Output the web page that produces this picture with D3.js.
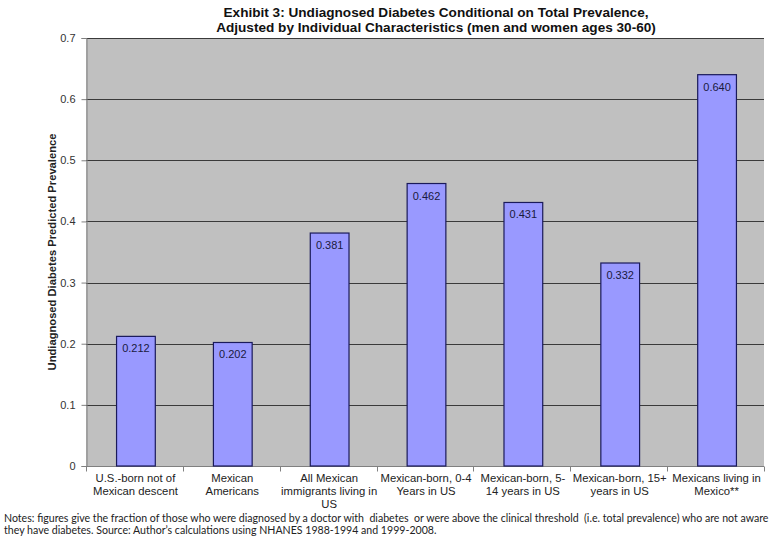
<!DOCTYPE html>
<html>
<head>
<meta charset="utf-8">
<script src="https://cdn.jsdelivr.net/npm/d3@7"></script>
<style>
  html, body { margin: 0; padding: 0; background: #fff; }
  svg { display: block; }
  .note { white-space: pre; }
</style>
</head>
<body>
<svg id="chart" width="779" height="544"></svg>
<script>
// Category labels (each entry is the list of wrapped lines)
const categories = [
  ["U.S.-born not of", "Mexican descent"],
  ["Mexican", "Americans"],
  ["All Mexican", "immigrants living in", "US"],
  ["Mexican-born, 0-4", "Years in US"],
  ["Mexican-born, 5-", "14 years in US"],
  ["Mexican-born, 15+", "years in US"],
  ["Mexicans living in", "Mexico**"]
];
const values = [0.212, 0.202, 0.381, 0.462, 0.431, 0.332, 0.640];
const yTicks = [0, 0.1, 0.2, 0.3, 0.4, 0.5, 0.6, 0.7];
const titleLines = [
  "Exhibit 3: Undiagnosed Diabetes Conditional on Total Prevalence,",
  "Adjusted by Individual Characteristics (men and women ages 30-60)"
];
const yAxisTitle = "Undiagnosed Diabetes Predicted Prevalence";
const noteLines = [
  "Notes: figures give the fraction of those who were diagnosed by a doctor with  diabetes  or were above the clinical threshold  (i.e. total prevalence) who are not aware",
  "they have diabetes. Source: Author\u2019s calculations using NHANES 1988-1994 and 1999-2008."
];

const svg = d3.select("#chart");
const plot = { left: 86, right: 764, top: 38, bottom: 466 };

const x = d3.scaleBand()
  .domain(d3.range(categories.length))
  .range([plot.left, plot.right])
  .paddingInner(0)
  .paddingOuter(0);

const y = d3.scaleLinear().domain([0, 0.7]).range([plot.bottom, plot.top]);

// plot area background
svg.append("rect")
  .attr("x", plot.left).attr("y", plot.top)
  .attr("width", plot.right - plot.left).attr("height", plot.bottom - plot.top)
  .attr("fill", "#c0c0c0");

// horizontal gridlines
svg.append("g").selectAll("line")
  .data(yTicks.filter(d => d > 0))
  .join("line")
  .attr("x1", plot.left).attr("x2", plot.right)
  .attr("y1", d => Math.round(y(d)) + 0.5).attr("y2", d => Math.round(y(d)) + 0.5)
  .attr("stroke", "#3a3a3a").attr("stroke-width", 1);

// y axis
const yAxis = svg.append("g")
  .attr("transform", `translate(${plot.left + 0.5},0)`)
  .call(d3.axisLeft(y).tickValues(yTicks).tickFormat(d3.format("")).tickSizeOuter(0).tickSize(5).tickPadding(6));
yAxis.select(".domain").attr("stroke", "#808080");
yAxis.selectAll(".tick line").attr("stroke", "#808080");
yAxis.selectAll("text")
  .attr("font-family", "Arial, 'Liberation Sans', sans-serif")
  .attr("font-size", 11).attr("fill", "#333");

// x axis
const xAxis = svg.append("g")
  .attr("transform", `translate(0,${plot.bottom + 0.5})`);
xAxis.append("line")
  .attr("x1", plot.left).attr("x2", plot.right)
  .attr("stroke", "#808080");
xAxis.selectAll("line.tick")
  .data(d3.range(categories.length + 1))
  .join("line")
  .attr("class", "tick")
  .attr("x1", i => Math.round(plot.left + i * x.step()) + 0.5)
  .attr("x2", i => Math.round(plot.left + i * x.step()) + 0.5)
  .attr("y1", 0).attr("y2", 5)
  .attr("stroke", "#808080");

// category labels
const catLabels = svg.append("g").selectAll("text")
  .data(categories)
  .join("text")
  .attr("x", (d, i) => x(i) + x.bandwidth() / 2 + 1)
  .attr("y", 482)
  .attr("text-anchor", "middle")
  .attr("font-family", "Arial, 'Liberation Sans', sans-serif")
  .attr("font-size", 11.3)
  .attr("fill", "#222");
catLabels.selectAll("tspan")
  .data(d => d)
  .join("tspan")
  .attr("x", function () { return d3.select(this.parentNode).attr("x"); })
  .attr("dy", (d, i) => i === 0 ? 0 : 13)
  .text(d => d);

// bars
const barW = x.step() / 2.5;
svg.append("g").selectAll("rect")
  .data(values)
  .join("rect")
  .attr("x", (d, i) => x(i) + (x.step() - barW) / 2 + 1.5)
  .attr("y", d => y(d))
  .attr("width", barW)
  .attr("height", d => plot.bottom - y(d))
  .attr("fill", "#9999ff")
  .attr("stroke", "#1a1a5a")
  .attr("stroke-width", 1.2);

// value labels
svg.append("g").selectAll("text")
  .data(values)
  .join("text")
  .attr("x", (d, i) => x(i) + x.step() / 2 + 1.5)
  .attr("y", d => y(d) + 16)
  .attr("text-anchor", "middle")
  .attr("font-family", "Arial, 'Liberation Sans', sans-serif")
  .attr("font-size", 11)
  .attr("fill", "#1a1a40")
  .text(d => d3.format(".3f")(d));

// title
svg.append("g").selectAll("text")
  .data(titleLines)
  .join("text")
  .attr("x", 436)
  .attr("y", (d, i) => 17 + i * 14.5)
  .attr("text-anchor", "middle")
  .attr("font-family", "Arial, 'Liberation Sans', sans-serif")
  .attr("font-weight", "bold")
  .attr("font-size", 13.6)
  .attr("fill", "#111")
  .text(d => d);

// y axis title
svg.append("text")
  .attr("transform", `translate(56,252) rotate(-90)`)
  .attr("text-anchor", "middle")
  .attr("font-family", "Arial, 'Liberation Sans', sans-serif")
  .attr("font-weight", "bold")
  .attr("font-size", 11.2)
  .attr("fill", "#222")
  .text(yAxisTitle);

// notes
svg.append("g").selectAll("text")
  .data(noteLines)
  .join("text")
  .attr("class", "note")
  .attr("x", 4)
  .attr("y", (d, i) => 522 + i * 12)
  .attr("font-family", "Lato, 'Open Sans', sans-serif")
  .attr("font-size", 10.6)
  .attr("fill", "#222")
  .text(d => d);
</script>
</body>
</html>
